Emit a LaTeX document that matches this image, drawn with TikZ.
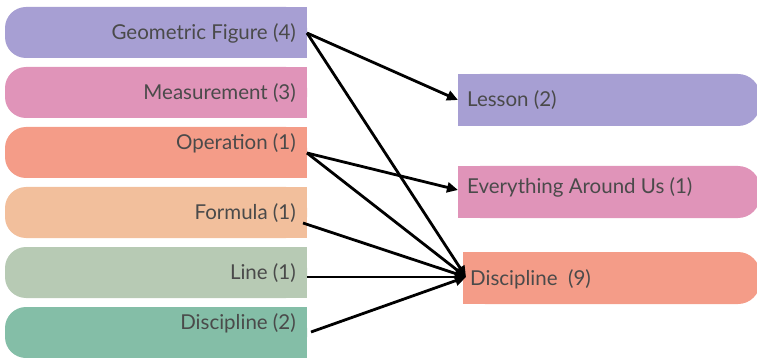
\documentclass[tikz,border=0pt]{standalone}
\usepackage{fontspec}
\setmainfont{Lato}
\usetikzlibrary{arrows.meta}
\definecolor{lav}{HTML}{A79FD3}
\definecolor{pinkc}{HTML}{E094B9}
\definecolor{salmon}{HTML}{F49C88}
\definecolor{peach}{HTML}{F2BF9C}
\definecolor{sage}{HTML}{B7CAB4}
\definecolor{teal}{HTML}{84BEA7}
\definecolor{txt}{HTML}{4A4A4A}
\begin{document}
\begin{tikzpicture}[x=1pt,y=-1pt,
  lbl/.style={text=txt,font=\fontsize{20.5}{23}\selectfont,inner sep=0pt},
  conn/.style={line width=2.8pt,draw=black,-{Triangle[length=11pt,width=10pt]}}]
\useasboundingbox (0,0) rectangle (757,358);
% left column: bars rounded on the left end
\foreach \ya/\c in {7/lav,67/pinkc,127/salmon,187/peach,247/sage,307/teal}{
  \fill[\c,rounded corners=21pt] (5,\ya) rectangle (307,\ya+51);
  \fill[\c] (100,\ya) rectangle (307,\ya+51);
}
% right column: bars rounded on the right end
\foreach \xa/\ya/\c in {458/74/lav,458/166/pinkc,463/252/salmon}{
  \fill[\c,rounded corners=22pt] (\xa,\ya) rectangle (760,\ya+52);
  \fill[\c] (\xa,\ya) rectangle (650,\ya+52);
}
% labels
\node[lbl,anchor=east] (geo)  at (296,33)  {Geometric Figure (4)};
\node[lbl,anchor=east] (meas) at (296,93)  {Measurement (3)};
\node[lbl,anchor=east] (oper) at (296,143) {Operation (1)};
\node[lbl,anchor=east] (form) at (296,213) {Formula (1)};
\node[lbl,anchor=east] (line) at (296,273) {Line (1)};
\node[lbl,anchor=east] (disc) at (296,323) {Discipline (2)};
\node[lbl,anchor=west] (lesson) at (467,100) {Lesson (2)};
\node[lbl,anchor=west] (every)  at (467,187) {Everything Around Us (1)};
\node[lbl,anchor=west] (disc9)  at (470,279) {Discipline~~(9)};
% connector ends
\coordinate (geo-o)  at (307,33);
\coordinate (oper-o) at (307,153);
\coordinate (form-o) at (303,223);
\coordinate (line-o) at (307,277);
\coordinate (disc-o) at (311,332);
\coordinate (lesson-i) at (458,100);
\coordinate (every-i)  at (458,190);
\coordinate (disc9-i)  at (466,277);
% connectors
\draw[conn] (geo-o) -- (lesson-i);
\draw[conn] (geo-o) -- (disc9-i);
\draw[conn] (oper-o) -- (every-i);
\draw[conn] (oper-o) -- (disc9-i);
\draw[conn] (form-o) -- (disc9-i);
\draw[conn] (line-o) -- (disc9-i);
\draw[conn] (disc-o) -- (disc9-i);
\end{tikzpicture}
\end{document}
